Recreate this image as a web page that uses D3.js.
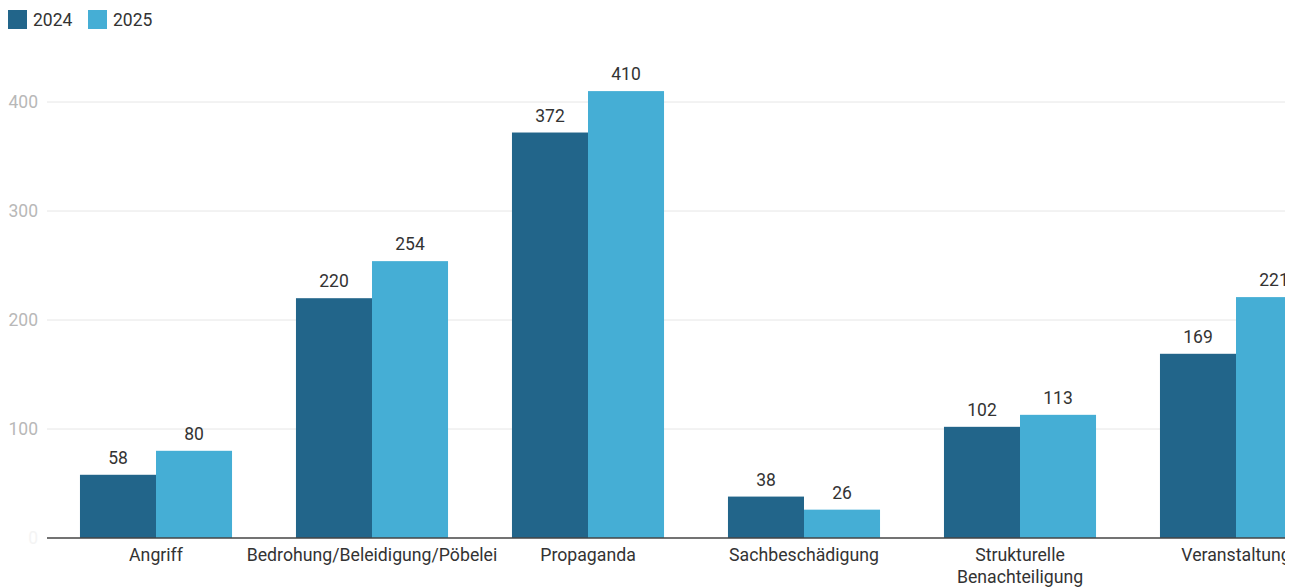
<!DOCTYPE html>
<html><head><meta charset="utf-8">
<script src="https://cdn.jsdelivr.net/npm/d3@7"></script>
<style>
html,body{margin:0;padding:0;background:#fff;overflow:hidden}
text{font-family:Roboto,"Noto Sans",sans-serif}
</style></head>
<body><svg id="c" width="1299" height="588"></svg>
<script>
const categories = ["Angriff","Bedrohung/Beleidigung/Pöbelei","Propaganda","Sachbeschädigung","Strukturelle\nBenachteiligung","Veranstaltung"];
const seriesNames = ["2024","2025"];
const values2024 = [58,220,372,38,102,169];
const values2025 = [80,254,410,26,113,221];
const yTicks = [0,100,200,300,400];
const colors = ["#22658a","#45aed5"];

const svg = d3.select("#c");
const clipW = 1285;
svg.append("defs").append("clipPath").attr("id","clip").append("rect").attr("x",0).attr("y",0).attr("width",clipW).attr("height",588);
const g = svg.append("g").attr("clip-path","url(#clip)");

const x = d3.scaleBand().domain(categories).range([48,1344]).paddingInner(0.296).paddingOuter(0.148);
const xs = d3.scaleBand().domain(seriesNames).range([0,x.bandwidth()]);
const y = d3.scaleLinear().domain([0,450]).range([538,47.5]);

// grid
g.selectAll(".grid").data(yTicks.filter(d=>d>0)).join("line")
  .attr("x1",47).attr("x2",clipW).attr("y1",d=>y(d)).attr("y2",d=>y(d))
  .attr("stroke","#e6e6e6").attr("stroke-width",1);

// y labels
svg.selectAll(".yl").data(yTicks).join("text")
  .attr("x",38).attr("y",d=>y(d)).attr("dy","0.35em").attr("text-anchor","end")
  .attr("font-size",17.5).attr("fill",d=>d===0?"#f4f4f4":"#b8b8b8").text(d=>d);

const data = [values2024, values2025];
data.forEach((vals,si)=>{
  g.selectAll(".b"+si).data(vals).join("rect")
    .attr("x",(d,i)=>x(categories[i])+xs(seriesNames[si]))
    .attr("width",xs.bandwidth())
    .attr("y",d=>y(d)).attr("height",d=>y(0)-y(d))
    .attr("fill",colors[si]);
  g.selectAll(".v"+si).data(vals).join("text")
    .attr("x",(d,i)=>x(categories[i])+xs(seriesNames[si])+xs.bandwidth()/2)
    .attr("y",d=>y(d)-11).attr("text-anchor","middle")
    .attr("font-size",17.5).attr("fill","#333").text(d=>d);
});

// baseline
g.append("line").attr("x1",47).attr("x2",clipW).attr("y1",y(0)).attr("y2",y(0))
  .attr("stroke","#444").attr("stroke-width",1.5);

// category labels
categories.forEach(c=>{
  const lines = c.split("\n");
  const t = g.append("text").attr("text-anchor","middle").attr("font-size",17.7).attr("fill","#333");
  lines.forEach((l,i)=>{
    t.append("tspan").attr("x",x(c)+x.bandwidth()/2).attr("y",561+i*21.5).text(l);
  });
});

// legend
const leg = svg.append("g");
let lx = 8;
seriesNames.forEach((s,i)=>{
  leg.append("rect").attr("x",lx).attr("y",10).attr("width",19).attr("height",19).attr("fill",colors[i]);
  leg.append("text").attr("x",lx+25).attr("y",26).attr("font-size",17.5).attr("fill","#333").text(s);
  lx += 80;
});
</script></body></html>
